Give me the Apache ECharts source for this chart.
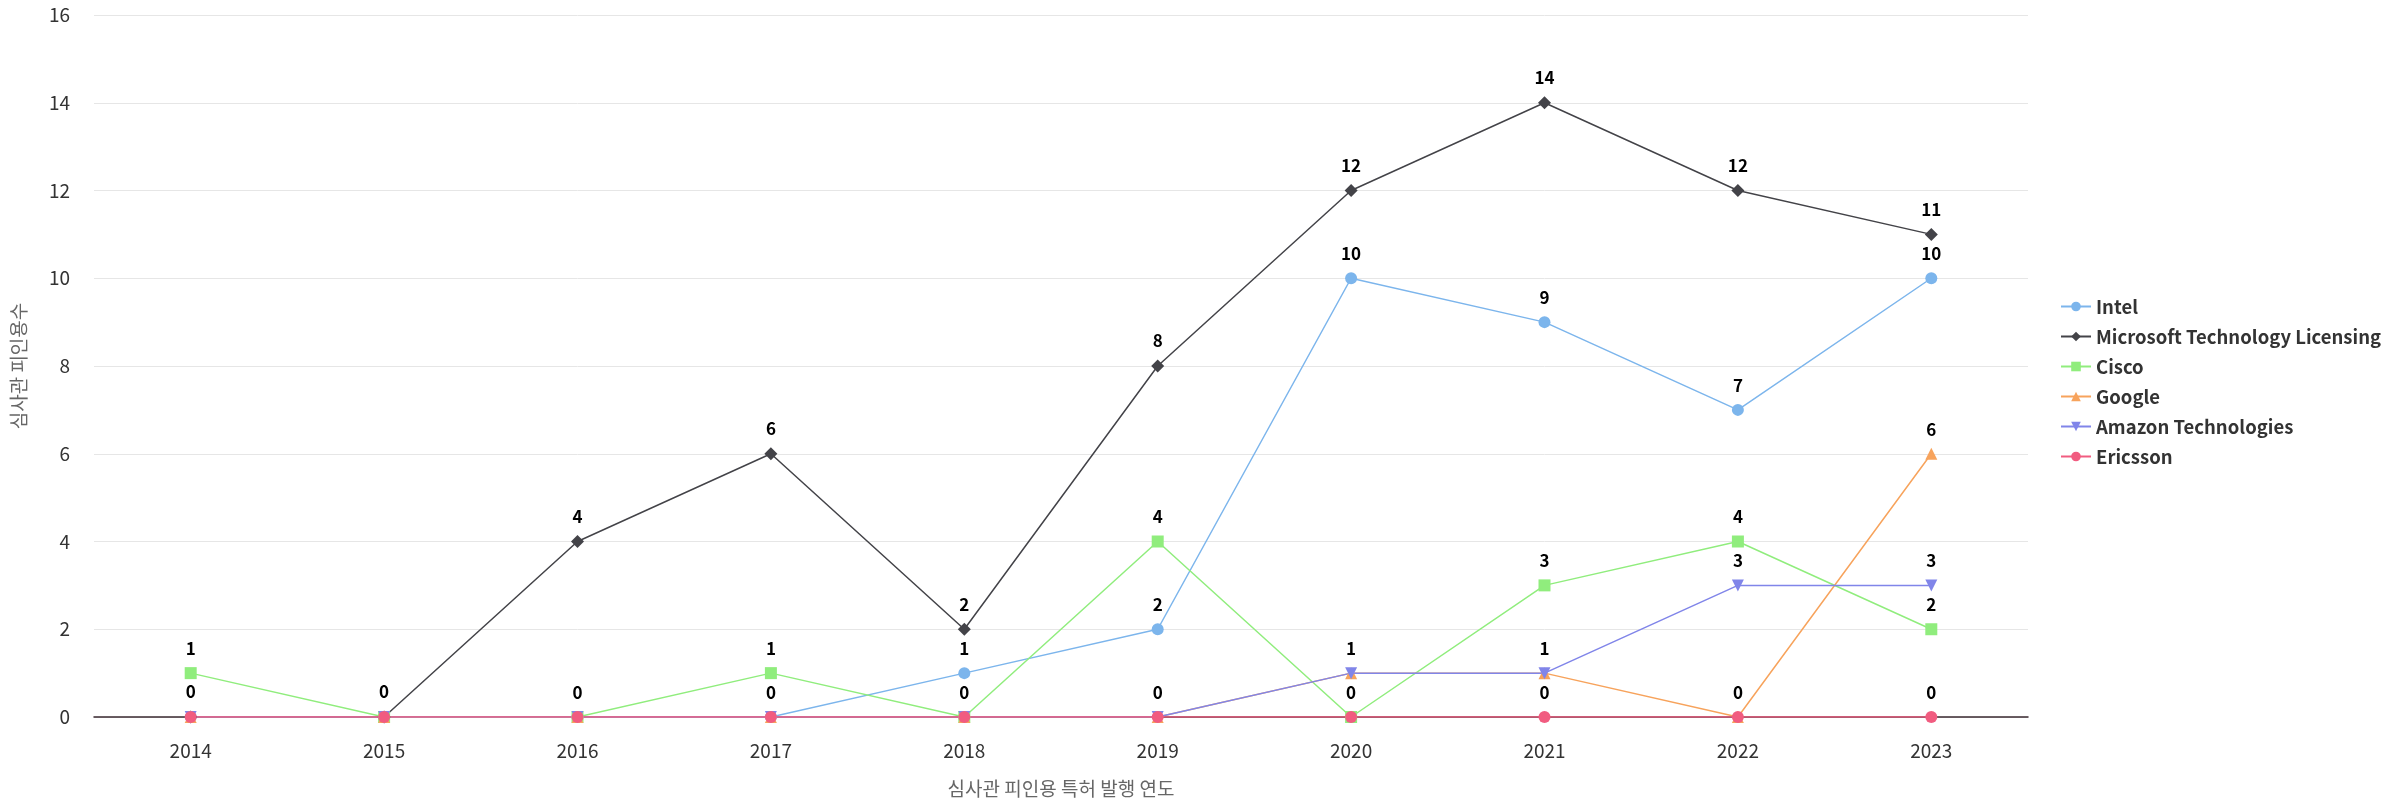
<!DOCTYPE html>
<html>
<head>
<meta charset="utf-8">
<script src="https://cdn.jsdelivr.net/npm/echarts@6/dist/echarts.min.js"></script>
<style>
html,body{margin:0;padding:0;background:#fff;}
#chart{width:2382px;height:811px;}
</style>
</head>
<body>
<div id="chart"></div>
<script>
const years = ['2014','2015','2016','2017','2018','2019','2020','2021','2022','2023'];
const intel = [0,0,0,0,1,2,10,9,7,10];
const microsoft = [0,0,4,6,2,8,12,14,12,11];
const cisco = [1,0,0,1,0,4,0,3,4,2];
const google = [0,0,0,0,0,0,1,1,0,6];
const amazon = [0,0,0,0,0,0,1,1,3,3];
const ericsson = [0,0,0,0,0,0,0,0,0,0];
const yTicks = {min:0, max:16, interval:2};
const xTitle = '심사관 피인용 특허 발행 연도';
const yTitle = '심사관 피인용수';

const FONT = '"Noto Sans CJK KR", "Noto Sans", sans-serif';

const defs = [
  {name:'Intel', data:intel, color:'#7cb5ec', symbol:'circle', size:12},
  {name:'Microsoft Technology Licensing', data:microsoft, color:'#434348', symbol:'diamond', size:13},
  {name:'Cisco', data:cisco, color:'#90ed7d', symbol:'rect', size:12},
  {name:'Google', data:google, color:'#f7a35c', symbol:'triangle', size:12},
  {name:'Amazon Technologies', data:amazon, color:'#8085e9', symbol:'path://M0,0 L10,0 L5,10 Z', size:12},
  {name:'Ericsson', data:ericsson, color:'#f15c80', symbol:'circle', size:12}
];

const chart = echarts.init(document.getElementById('chart'));
chart.setOption({
  animation:false,
  backgroundColor:'#ffffff',
  textStyle:{fontFamily:FONT},
  grid:{left:94, right:354, top:15, bottom:94, containLabel:false},
  legend:{
    orient:'vertical', left:2055, top:292,
    itemWidth:30, itemHeight:12, itemGap:11,
    textStyle:{fontFamily:FONT, fontSize:18.5, color:'#333', fontWeight:'bold', lineHeight:19},
    data: defs.map(d=>d.name)
  },
  xAxis:{
    type:'category', data:years, boundaryGap:true, z:3,
    name:xTitle, nameLocation:'middle', nameGap:62,
    nameTextStyle:{fontFamily:FONT, fontSize:19, color:'#666'},
    axisLine:{show:true, lineStyle:{color:'#3a2a30', width:1.5}},
    axisTick:{show:false},
    axisLabel:{fontFamily:FONT, fontSize:19, color:'#333', margin:24}
  },
  yAxis:{
    type:'value', min:yTicks.min, max:yTicks.max, interval:yTicks.interval,
    name:yTitle, nameLocation:'middle', nameGap:66,
    nameTextStyle:{fontFamily:FONT, fontSize:19, color:'#666'},
    axisLine:{show:false}, axisTick:{show:false},
    splitLine:{lineStyle:{color:'#e6e6e6', width:1}},
    axisLabel:{fontFamily:FONT, fontSize:19, color:'#333', margin:24}
  },
  series: defs.map(d=>({
    name:d.name, type:'line', data:d.data,
    symbol:d.symbol, symbolSize:d.size, showAllSymbol:true,
    itemStyle:{color:d.color},
    lineStyle:{color:d.color, width:1.5},
    label:{show:true, position:'top', distance:10, fontFamily:FONT, fontSize:17, fontWeight:'bold', color:'#000'},
    labelLayout:{hideOverlap:true},
    emphasis:{disabled:true}
  }))
});
</script>
</body>
</html>
